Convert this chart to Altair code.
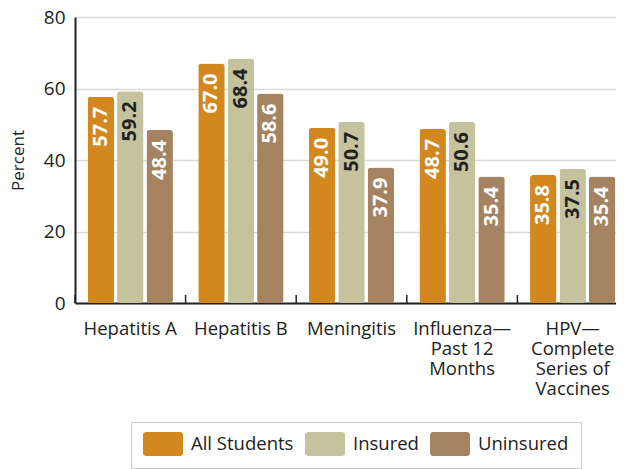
import altair as alt
import pandas as pd

categories = ["Hepatitis A", "Hepatitis B", "Meningitis",
              "Influenza—|Past 12|Months", "HPV—|Complete|Series of|Vaccines"]
groups = ["All Students", "Insured", "Uninsured"]
all_students = [57.7, 67.0, 49.0, 48.7, 35.8]
insured = [59.2, 68.4, 50.7, 50.6, 37.5]
uninsured = [48.4, 58.6, 37.9, 35.4, 35.4]
colors = ["#D3871F", "#C5C39E", "#A68360"]
y_ticks = [0, 20, 40, 60, 80]

rows = []
for i, c in enumerate(categories):
    for g, vals in zip(groups, [all_students, insured, uninsured]):
        rows.append({"category": c, "group": g, "value": vals[i], "label": f"{vals[i]:.1f}"})
df = pd.DataFrame(rows)

FONT = "Open Sans"
DARK = "#222222"

x_scale = alt.Scale(range=[0, 553], paddingInner=0, paddingOuter=0)
x_enc = alt.X("category:N", sort=categories, scale=x_scale,
              axis=alt.Axis(title=None, labelExpr="split(datum.label, '|')",
                            labelAngle=0, labelFont=FONT, labelFontSize=18.5,
                            labelLineHeight=20, labelPadding=16, labelColor=DARK,
                            ticks=False, grid=False, domainColor=DARK, domainWidth=2))
xoff = alt.XOffset("group:N", sort=groups,
                   scale=alt.Scale(paddingInner=0.1, paddingOuter=0.43))
y_enc = alt.Y("value:Q", scale=alt.Scale(domain=[0, 80], nice=False),
              axis=alt.Axis(values=y_ticks, title="Percent", titleFont=FONT,
                            titleFontSize=17, titleFontWeight="normal", titleColor=DARK,
                            titlePadding=16, labelFont=FONT, labelFontSize=19,
                            labelColor=DARK, labelPadding=10, ticks=False,
                            domainColor=DARK, domainWidth=2, gridColor="#d9d9d9",
                            gridWidth=1.5))

# rounded rectangle 40x24 px drawn with symbolSize=400 (unit = 10px)
sym = ("M-1.7,-1.2H1.7A0.3,0.3 0 0 1 2,-0.9V0.9A0.3,0.3 0 0 1 1.7,1.2"
       "H-1.7A0.3,0.3 0 0 1 -2,0.9V-0.9A0.3,0.3 0 0 1 -1.7,-1.2Z")

bars = alt.Chart(df).mark_bar(cornerRadius=3).encode(
    x=x_enc, xOffset=xoff, y=y_enc,
    color=alt.Color("group:N", sort=groups,
                    scale=alt.Scale(domain=groups, range=colors),
                    legend=alt.Legend(title=None, orient="none", legendX=56, legendY=405,
                                      direction="horizontal", symbolType=sym,
                                      symbolSize=400, symbolOpacity=1,
                                      symbolStrokeWidth=0, symbolOffset=10,
                                      labelFont=FONT, labelFontSize=18.5,
                                      labelColor=DARK, labelOffset=18,
                                      columnPadding=11, padding=12,
                                      strokeColor="#cccccc"))
)

labels = alt.Chart(df).mark_text(angle=270, align="right", baseline="middle", dx=-10,
                                 font=FONT, fontSize=20, fontWeight="bold").encode(
    x=alt.X("category:N", sort=categories), xOffset=xoff,
    y=alt.Y("value:Q"),
    text="label:N",
    color=alt.condition("datum.group === 'Insured'", alt.value(DARK), alt.value("white")),
)

ticks_df = pd.DataFrame({"category": categories})
sep = alt.Chart(ticks_df).mark_rule(color=DARK, strokeWidth=1.5).encode(
    x=alt.X("category:N", sort=categories, bandPosition=0),
    y=alt.value(286), y2=alt.value(278),
)

chart = alt.layer(bars, labels, sep).properties(
    width=541, height=286,
    autosize=alt.AutoSizeParams(type="none"),
    padding={"left": 67, "top": 9, "right": 0, "bottom": 166},
).configure_view(stroke=None)

chart.save("out.html", embed_options={"renderer": "svg", "actions": False})
